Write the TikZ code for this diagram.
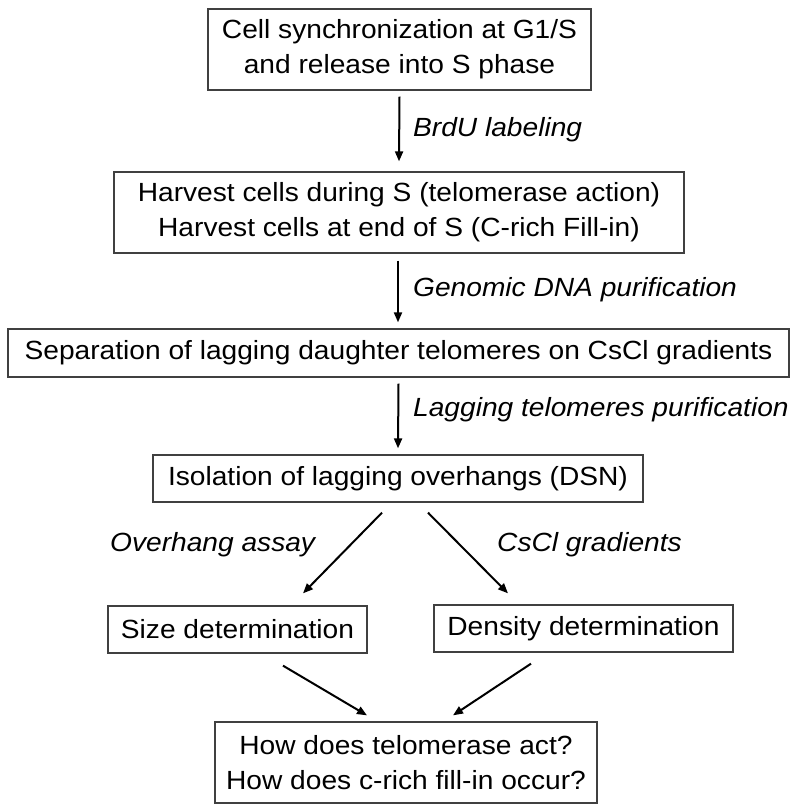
\documentclass[tikz,border=0pt]{standalone}
\usepackage{fontspec}
\setmainfont{Liberation Sans}[FakeStretch=1.07]
\usetikzlibrary{arrows.meta}
\begin{document}
\begin{tikzpicture}[x=1pt,y=-1pt,
 box/.style={draw=black!75, line width=1.3pt, inner sep=0pt, align=center, font=\fontsize{26.3}{35}\selectfont},
 lbl/.style={anchor=west, inner sep=0pt, font=\fontsize{26.3}{35}\selectfont\itshape},
 arr/.style={-{Triangle[length=10pt,width=8pt]}, line width=2pt}]
\useasboundingbox (0,0) rectangle (800,812);
\node[box, minimum width=383pt, minimum height=81pt] (b1) at (399.5,49.5) {Cell synchronization at G1/S\\and release into S phase};
\node[box, minimum width=570pt, minimum height=81pt] (b2) at (399,212.5) {Harvest cells during S (telomerase action)\\Harvest cells at end of S (C-rich Fill-in)};
\node[box, minimum width=781pt, minimum height=48pt] (b3) at (398.5,353) {Separation of lagging daughter telomeres on CsCl gradients};
\node[box, minimum width=490pt, minimum height=47pt] (b4) at (398,478.5) {Isolation of lagging overhangs (DSN)};
\node[box, minimum width=259pt, minimum height=47pt] (b5) at (237.5,629.5) {Size determination};
\node[box, minimum width=299pt, minimum height=47pt] (b6) at (583.5,628.5) {Density determination};
\node[box, minimum width=382pt, minimum height=81pt] (b7) at (406,762.5) {How does telomerase act?\\How does c-rich fill-in occur?};

\node[lbl] (l1) at (413,130) {BrdU labeling};
\node[lbl] (l2) at (413,290) {Genomic DNA purification};
\node[lbl] (l3) at (413,410) {Lagging telomeres purification};
\node[lbl] (l4) at (110,545) {Overhang assay};
\node[lbl] (l5) at (497,545) {CsCl gradients};

\draw[arr] ([yshift=-6pt]b1.south) -- ([yshift=10pt]b2.north);
\draw[arr] ([yshift=-7pt,xshift=-1pt]b2.south) -- ([yshift=6pt,xshift=-0.5pt]b3.north);
\draw[arr] ([yshift=-6pt]b3.south) -- ([yshift=6pt]b4.north);
\draw[arr] ([xshift=-16pt,yshift=-10pt]b4.south) -- ([xshift=65.5pt,yshift=12pt]b5.north);
\draw[arr] ([xshift=30pt,yshift=-10pt]b4.south) -- ([xshift=-75.5pt,yshift=11pt]b6.north);
\draw[arr] ([xshift=45.5pt,yshift=-12pt]b5.south) -- ([xshift=-39pt,yshift=6pt]b7.north);
\draw[arr] ([xshift=-52.5pt,yshift=-11pt]b6.south) -- ([xshift=47pt,yshift=6pt]b7.north);
\end{tikzpicture}
\end{document}
